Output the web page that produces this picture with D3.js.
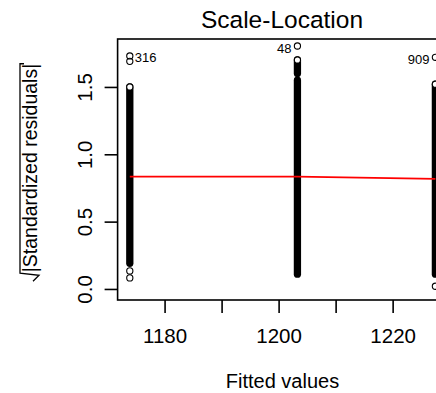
<!DOCTYPE html>
<html>
<head>
<meta charset="utf-8">
<script src="https://cdn.jsdelivr.net/npm/d3@7"></script>
<style>
  body { margin: 0; background: #fff; }
  svg { display: block; font-family: "Liberation Sans", Arial, sans-serif; }
</style>
</head>
<body>
<svg id="chart" width="436" height="393"></svg>
<script>
// three distinct fitted values, each with a dense run of residuals
const fittedValues = [1173.9, 1203.3, 1227.5];
const smoothValues = [0.834, 0.834, 0.817];

// dense runs of points (too many to tell apart), drawn as solid columns
const runFitted = [1173.9, 1203.3, 1203.3, 1227.5];
const runLow = [0.19, 0.11, 1.60, 0.11];
const runHigh = [1.50, 1.55, 1.70, 1.52];

// points that stand apart from the runs
const pointFitted = [1173.9, 1173.9, 1173.9, 1173.9, 1203.3, 1227.5, 1227.5];
const pointValue = [1.73, 1.69, 0.134, 0.082, 1.804, 1.72, 0.02];

// labelled observations
const labelText = ['316', '48', '909'];
const labelFitted = [1173.9, 1203.3, 1227.5];
const labelValue = [1.73, 1.804, 1.72];

const xTicks = [1180, 1190, 1200, 1210, 1220];
const xTickLabels = ['1180', '', '1200', '', '1220'];
const yTicks = [0, 0.5, 1, 1.5];
const yTickLabels = ['0.0', '0.5', '1.0', '1.5'];

const xLim = [1171.76, 1229.64];
const yLim = [-0.082, 1.856];

const svg = d3.select('#chart');
const box = { left: 117.6, right: 447.6, top: 39, bottom: 300 };
const x = d3.scaleLinear().domain(xLim).range([box.left, box.right]);
const y = d3.scaleLinear().domain(yLim).range([box.bottom, box.top]);
const r = 3.1;
const ink = '#000';

// columns of overlapping open circles
svg.append('g')
  .selectAll('line')
  .data(runFitted.map((f, i) => ({ f, lo: runLow[i], hi: runHigh[i] })))
  .enter()
  .append('line')
  .attr('x1', d => x(d.f)).attr('x2', d => x(d.f))
  .attr('y1', d => y(d.lo)).attr('y2', d => y(d.hi))
  .attr('stroke', ink)
  .attr('stroke-width', 2 * r + 1.1)
  .attr('stroke-linecap', 'round');

// topmost circle of each column keeps its open centre
const tops = fittedValues.map(f => ({ f, v: d3.max(runHigh.filter((_, i) => runFitted[i] === f)) }));
const openPoints = tops.concat(pointFitted.map((f, i) => ({ f, v: pointValue[i] })));

svg.append('g')
  .selectAll('circle')
  .data(openPoints)
  .enter()
  .append('circle')
  .attr('cx', d => x(d.f))
  .attr('cy', d => y(d.v))
  .attr('r', r)
  .attr('fill', (d, i) => i < tops.length ? '#fff' : 'none')
  .attr('stroke', ink)
  .attr('stroke-width', 1.1);

// smoother
svg.append('path')
  .datum(fittedValues.map((f, i) => [f, smoothValues[i]]))
  .attr('d', d3.line().x(d => x(d[0])).y(d => y(d[1])))
  .attr('fill', 'none')
  .attr('stroke', '#ff0000')
  .attr('stroke-width', 1.8);

// observation labels, put on the side away from the middle like R does
const xMid = (d3.min(fittedValues) + d3.max(fittedValues)) / 2;
svg.append('g')
  .selectAll('text')
  .data(labelText.map((t, i) => ({ t, f: labelFitted[i], v: labelValue[i] })))
  .enter()
  .append('text')
  .attr('x', d => d.f > xMid ? x(d.f) - 6 : x(d.f) + 5)
  .attr('y', d => y(d.v) + 6.5)
  .attr('text-anchor', d => d.f > xMid ? 'end' : 'start')
  .attr('font-size', 13)
  .attr('fill', ink)
  .text(d => d.t);

// plot frame
svg.append('rect')
  .attr('x', box.left).attr('y', box.top)
  .attr('width', box.right - box.left).attr('height', box.bottom - box.top)
  .attr('fill', 'none')
  .attr('stroke', ink)
  .attr('stroke-width', 1.6);

const xAxis = svg.append('g')
  .attr('transform', `translate(0,${box.bottom})`)
  .call(d3.axisBottom(x).tickValues(xTicks)
    .tickFormat((d, i) => xTickLabels[i])
    .tickSize(13).tickSizeOuter(0).tickPadding(15));

const yAxis = svg.append('g')
  .attr('transform', `translate(${box.left},0)`)
  .call(d3.axisLeft(y).tickValues(yTicks)
    .tickFormat((d, i) => yTickLabels[i])
    .tickSize(13).tickSizeOuter(0));

[xAxis, yAxis].forEach(a => {
  a.select('.domain').remove();
  a.selectAll('line').attr('stroke', ink).attr('stroke-width', 1.6);
  a.selectAll('text').attr('fill', ink).attr('font-size', 20.5)
    .attr('font-family', '"Liberation Sans", Arial, sans-serif');
});

yAxis.selectAll('text')
  .attr('x', null).attr('dy', null)
  .attr('text-anchor', 'middle')
  .attr('transform', `translate(${92 - box.left},0) rotate(-90)`);

// titles
svg.append('text')
  .attr('x', 282).attr('y', 28)
  .attr('text-anchor', 'middle')
  .attr('font-size', 24.5)
  .attr('fill', ink)
  .text('Scale-Location');

svg.append('text')
  .attr('x', 282.5).attr('y', 388)
  .attr('text-anchor', 'middle')
  .attr('font-size', 20)
  .attr('fill', ink)
  .text('Fitted values');

// sqrt(|Standardized residuals|) on the y axis
const yLab = svg.append('g').attr('transform', 'translate(37,168) rotate(-90)');
const yLabText = yLab.append('text')
  .attr('text-anchor', 'middle')
  .attr('font-size', 19.5)
  .attr('fill', ink)
  .text('|Standardized residuals|');
const len = yLabText.node().getComputedTextLength();
const u0 = -len / 2, u1 = len / 2;
yLab.append('path')
  .attr('d', `M${u0 - 9},-4 L${u0 - 6},-1 L${u0 - 3},2 L${u0 - 1},-17 L${u1},-17 L${u1},-13`)
  .attr('fill', 'none')
  .attr('stroke', ink)
  .attr('stroke-width', 1.3);
</script>
</body>
</html>
